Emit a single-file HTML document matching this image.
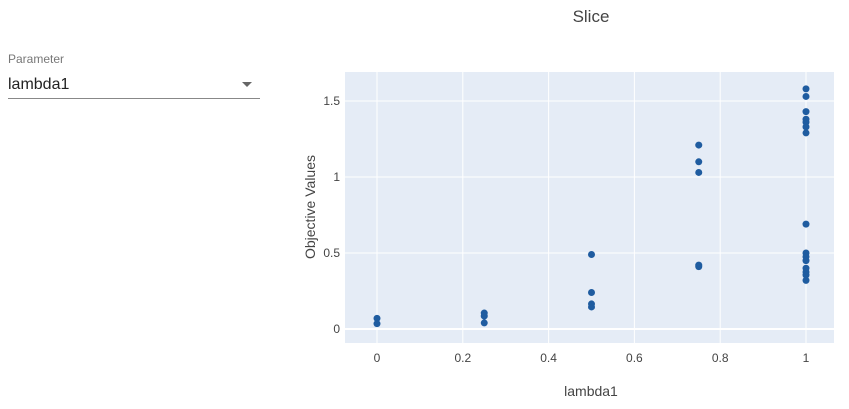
<!DOCTYPE html>
<html><head><meta charset="utf-8"><style>
body{margin:0;width:849px;height:409px;background:#fff;font-family:"Liberation Sans",sans-serif;position:relative;overflow:hidden}
#lbl{position:absolute;left:8px;top:52px;font-size:12px;color:#777}
#sel{position:absolute;left:8px;top:72px;width:252px;height:26px;border-bottom:1px solid #888;font-size:16px;color:#222;line-height:22px;padding-top:0}
#sel span{position:relative;top:2px}
#arrow{position:absolute;right:8px;top:10px;width:0;height:0;border-left:5px solid transparent;border-right:5px solid transparent;border-top:5px solid #666}
svg{position:absolute;left:0;top:0}
</style></head><body>
<div id="lbl">Parameter</div>
<div id="sel"><span>lambda1</span><div id="arrow"></div></div>
<svg id="chart" width="849" height="409"></svg>
<script>
const xs=[0,0,0.25,0.25,0.25,0.5,0.5,0.5,0.5,0.75,0.75,0.75,0.75,0.75,1,1,1,1,1,1,1,1,1,1,1,1,1,1,1];
const ys=[0.07,0.035,0.105,0.085,0.04,0.49,0.24,0.165,0.145,1.21,1.10,1.03,0.42,0.41,1.58,1.53,1.43,1.38,1.36,1.33,1.29,0.69,0.5,0.475,0.45,0.40,0.375,0.355,0.32];
const xTicks=[0,0.2,0.4,0.6,0.8,1];
const yTicks=[0,0.5,1,1.5];
const yTickLabels=["0","0.5","1","1.5"];
const X=v=>377+v*429, Y=v=>329-v*152;
const s=document.getElementById('chart'),NS='http://www.w3.org/2000/svg';
function mk(t,a,txt){const e=document.createElementNS(NS,t);for(const k in a)e.setAttribute(k,a[k]);if(txt!=null)e.textContent=txt;s.appendChild(e);return e;}
let e=mk('rect',{x:345,y:72,width:489,height:271,fill:'#e5ecf6'});


xTicks.forEach(t=>{let l=mk('line',{x1:X(t),x2:X(t),y1:72,y2:343,stroke:'#fff','stroke-width':1});


let tx=mk('text',{x:X(t),y:362,'text-anchor':'middle','font-size':12,fill:'#444'},String(t));

});
yTicks.forEach((t,i)=>{let l=mk('line',{x1:345,x2:834,y1:Y(t),y2:Y(t),stroke:'#fff','stroke-width':t===0?2:1});


let tx=mk('text',{x:340,y:Y(t)+4,'text-anchor':'end','font-size':12,fill:'#444'},yTickLabels[i]);

});
xs.forEach((v,i)=>{let c=mk('circle',{cx:X(v),cy:Y(ys[i]),r:3.5,fill:'#1f5ca0'});

});
let t1=mk('text',{x:591,y:22,'text-anchor':'middle','font-size':17,fill:'#444'},'Slice');


let t2=mk('text',{x:591,y:396,'text-anchor':'middle','font-size':14,fill:'#444'},'lambda1');


let t3=mk('text',{x:315,y:207,'text-anchor':'middle','font-size':14,fill:'#444',transform:'rotate(-90 315 207)'},'Objective Values');


</script>
</body></html>
